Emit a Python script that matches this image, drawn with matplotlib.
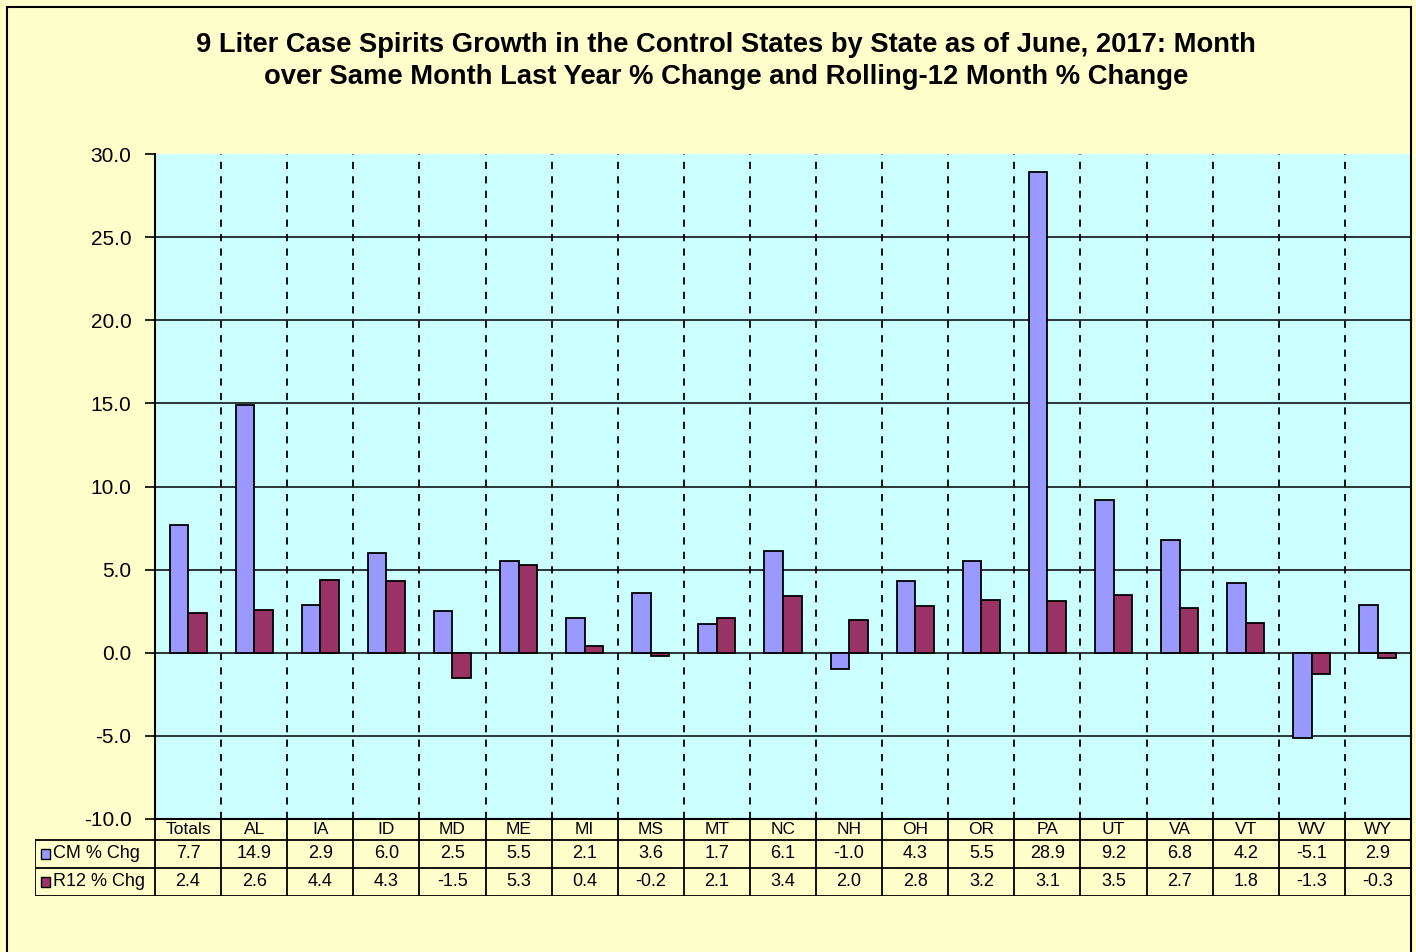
import numpy as np
import matplotlib.pyplot as plt
from matplotlib.patches import Rectangle

plt.rcParams['font.family'] = ['Liberation Sans', 'DejaVu Sans']

states = ['Totals', 'AL', 'IA', 'ID', 'MD', 'ME', 'MI', 'MS', 'MT', 'NC',
          'NH', 'OH', 'OR', 'PA', 'UT', 'VA', 'VT', 'WV', 'WY']
cm_chg = [7.7, 14.9, 2.9, 6.0, 2.5, 5.5, 2.1, 3.6, 1.7, 6.1,
          -1.0, 4.3, 5.5, 28.9, 9.2, 6.8, 4.2, -5.1, 2.9]
r12_chg = [2.4, 2.6, 4.4, 4.3, -1.5, 5.3, 0.4, -0.2, 2.1, 3.4,
           2.0, 2.8, 3.2, 3.1, 3.5, 2.7, 1.8, -1.3, -0.3]
series_names = ['CM % Chg', 'R12 % Chg']
colors = ['#9999FF', '#993366']
title = ('9 Liter Case Spirits Growth in the Control States by State as of June, 2017: Month\n'
         'over Same Month Last Year % Change and Rolling-12 Month % Change')

W, H = 1416, 952
fig = plt.figure(figsize=(W / 100, H / 100), dpi=100)
fig.patch.set_facecolor('#FFFFCC')

# outer chart border
fig.patches.append(Rectangle((7 / W, -0.05), (1411 - 7) / W, 1.05 - 7 / H,
                             transform=fig.transFigure, fill=False,
                             edgecolor='black', lw=1.5, zorder=0))

L, R, T, B = 155, 1411, 154, 819
ax = fig.add_axes([L / W, 1 - B / H, (R - L) / W, (B - T) / H])
ax.set_facecolor('#CCFFFF')

n = len(states)
x = np.arange(n)
bw = 0.28
ax.bar(x - bw / 2, cm_chg, bw, color=colors[0], edgecolor='black', lw=1.3, zorder=3)
ax.bar(x + bw / 2, r12_chg, bw, color=colors[1], edgecolor='black', lw=1.3, zorder=3)

ax.set_xlim(-0.5, n - 0.5)
ax.set_ylim(-10, 30)
ax.set_yticks(np.arange(-10, 31, 5))
ax.set_yticklabels([f'{v:.1f}' for v in np.arange(-10, 31, 5)], fontsize=15)
ax.tick_params(axis='y', direction='out', length=7, width=1.2, pad=10)
ax.set_xticks([])
for v in np.arange(-5, 30, 5):
    ax.axhline(v, color='black', lw=1.1, zorder=1)
for b in np.arange(0.5, n - 1, 1):
    ax.axvline(b, color='black', lw=1.3, ls=(0, (4, 4)), zorder=1)
for s in ['left', 'bottom']:
    ax.spines[s].set_linewidth(1.5)
for s in ['top', 'right']:
    ax.spines[s].set_visible(False)

fig.text(726 / W, 1 - 61 / H, title, ha='center', va='center',
         fontsize=19.7, fontweight='bold', linespacing=1.25)

# data table under the plot
TL, TB = 35, 896
unit = (R - L) / n
tab = fig.add_axes([TL / W, 1 - TB / H, (R - TL) / W, (TB - B) / H])
tab.set_xlim(-0.5 - (L - TL) / unit, n - 0.5)
tab.set_ylim(TB - B, 0)
tab.axis('off')
lk = dict(color='black', lw=1.3)
x0 = -0.5 - (L - TL) / unit
for yl in [21, 49, 77]:
    tab.plot([x0, n - 0.5], [yl, yl], **lk)
tab.plot([x0, x0], [21, 77], **lk)
for b in np.arange(-0.5, n, 1):
    tab.plot([b, b], [0, 77], **lk)
for i, s in enumerate(states):
    tab.text(i, 11, s, ha='center', va='center', fontsize=12.5)
    tab.text(i, 35, f'{cm_chg[i]:.1f}', ha='center', va='center', fontsize=13)
    tab.text(i, 63, f'{r12_chg[i]:.1f}', ha='center', va='center', fontsize=13)
for j, (name, c) in enumerate(zip(series_names, colors)):
    yc = 35 + 28 * j
    tab.add_patch(Rectangle((x0 + 6 / unit, yc - 5), 9 / unit, 10,
                            facecolor=c, edgecolor='black', lw=1))
    tab.text(x0 + 18 / unit, yc, name, ha='left', va='center', fontsize=13)

fig.savefig('out.png', dpi=100, facecolor=fig.get_facecolor())
